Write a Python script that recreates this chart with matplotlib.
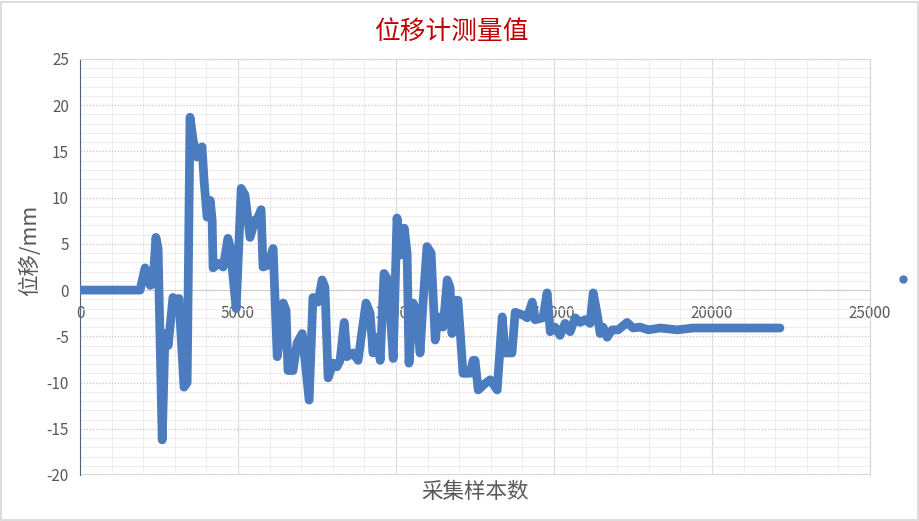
import matplotlib.pyplot as plt
from matplotlib.lines import Line2D
from matplotlib.patches import Rectangle
from matplotlib.ticker import MultipleLocator

plt.rcParams['font.family'] = ['Noto Sans CJK SC', 'DejaVu Sans']
plt.rcParams['axes.unicode_minus'] = False

# sample index / displacement (mm)
samples = [0, 1900, 2060, 2220, 2310, 2400, 2470, 2600, 2690, 2790, 2940, 3070,
           3130, 3290, 3390, 3480, 3580, 3700, 3860, 3930, 4020, 4120, 4180,
           4210, 4370, 4530, 4680, 4750, 4940, 5100, 5220, 5380, 5540, 5600,
           5730, 5790, 5950, 6110, 6240, 6330, 6430, 6520, 6580, 6740, 6870,
           7030, 7120, 7250, 7370, 7530, 7660, 7750, 7850, 8010, 8130, 8230,
           8360, 8450, 8640, 8800, 8930, 9050, 9180, 9270, 9400, 9500, 9620,
           9750, 9910, 10030, 10160, 10260, 10350, 10410, 10540, 10670, 10760,
           10860, 10980, 11110, 11240, 11330, 11490, 11620, 11710, 11770,
           11870, 11960, 12120, 12340, 12440, 12500, 12600, 12820, 12980,
           13200, 13360, 13450, 13670, 13770, 14020, 14150, 14310, 14400,
           14650, 14780, 14880, 15030, 15190, 15350, 15510, 15670, 15830,
           15980, 16140, 16240, 16360, 16460, 16550, 16680, 16840, 17030,
           17310, 17500, 17720, 17980, 18360, 18900, 19400, 20480, 22150]
displacement = [0.0, 0.0, 2.4, 0.5, 0.7, 5.7, 4.5, -16.2, -4.7, -6.0, -0.8, -1.1,
                -0.9, -10.5, -10.0, 18.7, 16.2, 14.4, 15.5, 11.6, 7.9, 9.7, 7.6,
                2.4, 2.9, 2.5, 5.6, 4.7, -2.0, 11.0, 10.3, 5.7, 7.6, 7.6,
                8.7, 2.5, 2.7, 4.5, -7.2, -5.1, -1.4, -2.2, -8.7, -8.7, -5.7,
                -4.7, -7.6, -11.9, -0.8, -1.3, 1.1, 0.3, -9.5, -7.9, -8.3, -7.6,
                -3.5, -7.2, -6.8, -7.6, -4.3, -1.4, -2.5, -6.8, -5.1, -7.6, 1.8,
                1.1, -7.4, 7.8, 3.8, 6.7, 4.0, -7.9, -1.4, -2.5, -6.8,
                -1.1, 4.7, 4.0, -5.4, -2.9, -4.0, 1.1, 0.3, -4.7,
                -1.1, -1.1, -9.0, -9.0, -7.6, -7.6, -10.8, -10.1, -9.7,
                -10.8, -2.9, -6.8, -6.8, -2.4, -2.7, -3.0, -1.3, -3.2,
                -3.0, -0.3, -4.5, -4.0, -4.9, -3.6, -4.5, -3.0, -3.5,
                -3.2, -3.6, -0.3, -2.5, -4.7, -4.0, -5.1, -4.3, -4.3,
                -3.5, -4.1, -4.0, -4.3, -4.1, -4.3, -4.1, -4.1, -4.1]

blue = '#4a7cbf'
grey = '#595959'

fig = plt.figure(figsize=(9.2, 5.21), dpi=100)
ax = fig.add_axes([0.087, 0.0883, 0.8587, 0.7985])

ax.plot(samples, displacement, color=blue, lw=6.3, solid_joinstyle='round',
        solid_capstyle='round', zorder=3)

ax.set_xlim(0, 25000)
ax.set_ylim(-20, 25)
ax.xaxis.set_major_locator(MultipleLocator(5000))
ax.xaxis.set_minor_locator(MultipleLocator(1000))
ax.yaxis.set_major_locator(MultipleLocator(5))
ax.yaxis.set_minor_locator(MultipleLocator(1))

ax.grid(which='minor', color='#eeeeee', lw=0.8, zorder=0)
ax.grid(which='major', axis='x', color='#dcdcdc', lw=0.9, zorder=0)
ax.grid(which='major', axis='y', color='#e3bcbc', lw=0.9, ls=(0, (1, 1.5)), zorder=0)

ax.spines['bottom'].set_position(('data', 0))
ax.spines['bottom'].set_color('#d0d0d0')
ax.spines['left'].set_color('#54657a')
ax.spines['top'].set_color('#d9d9d9')
ax.spines['right'].set_color('#d9d9d9')
ax.axhline(-20, color='#d0d0d0', lw=1.2, zorder=1)

ax.tick_params(which='both', length=0)
ax.tick_params(axis='x', pad=11, labelsize=11, labelcolor=grey)
ax.tick_params(axis='y', pad=8, labelsize=11, labelcolor=grey)

ax.legend(handles=[Line2D([], [], marker='o', ls='', color=blue, markersize=5)],
          labels=[''], loc='center', bbox_to_anchor=(1.042, 0.469),
          frameon=False, handlelength=1, handletextpad=0, borderpad=0)

fig.text(0.49, 0.938, '位移计测量值', ha='center', va='center', fontsize=18.5,
         color='#c00000')
fig.text(0.516, 0.055, '采集样本数', ha='center', va='center', fontsize=15.5,
         color=grey)
fig.text(0.033, 0.52, '位移/mm', ha='center', va='center', fontsize=15.5,
         color=grey, rotation=90)

fig.patches.append(Rectangle((0.001, 0.002), 0.997, 0.995, transform=fig.transFigure,
                             fill=False, edgecolor='#d6d6d6', lw=1.2))

fig.savefig('out.png', dpi=100)
